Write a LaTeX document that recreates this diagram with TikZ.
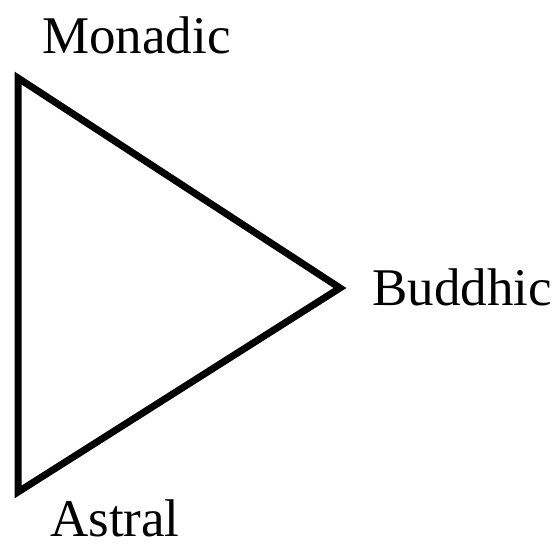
\documentclass[tikz,border=0pt]{standalone}
\usepackage{fontspec}
\setmainfont{Liberation Serif}
\usepackage{tikz}
\usetikzlibrary{positioning}

\begin{document}
\begin{tikzpicture}[x=1pt,y=-1pt]
  \tikzstyle{plane}=[anchor=base west, inner sep=0pt, font=\fontsize{53}{53}\selectfont]
  \tikzstyle{side}=[line width=7pt, line join=miter]
  \useasboundingbox (0,0) rectangle (560,546);
  % corners
  \coordinate (top) at (18,78);
  \coordinate (tip) at (340,288);
  \coordinate (bot) at (18,492);
  % labels
  \node[plane] (monadic) at (42,53) {Monadic};
  \node[plane] (buddhic) at (372,305) {Buddhic};
  \node[plane] (astral) at (50,536) {Astral};
  % triangle
  \draw[side] (top) -- (tip) -- (bot) -- cycle;
\end{tikzpicture}
\end{document}
